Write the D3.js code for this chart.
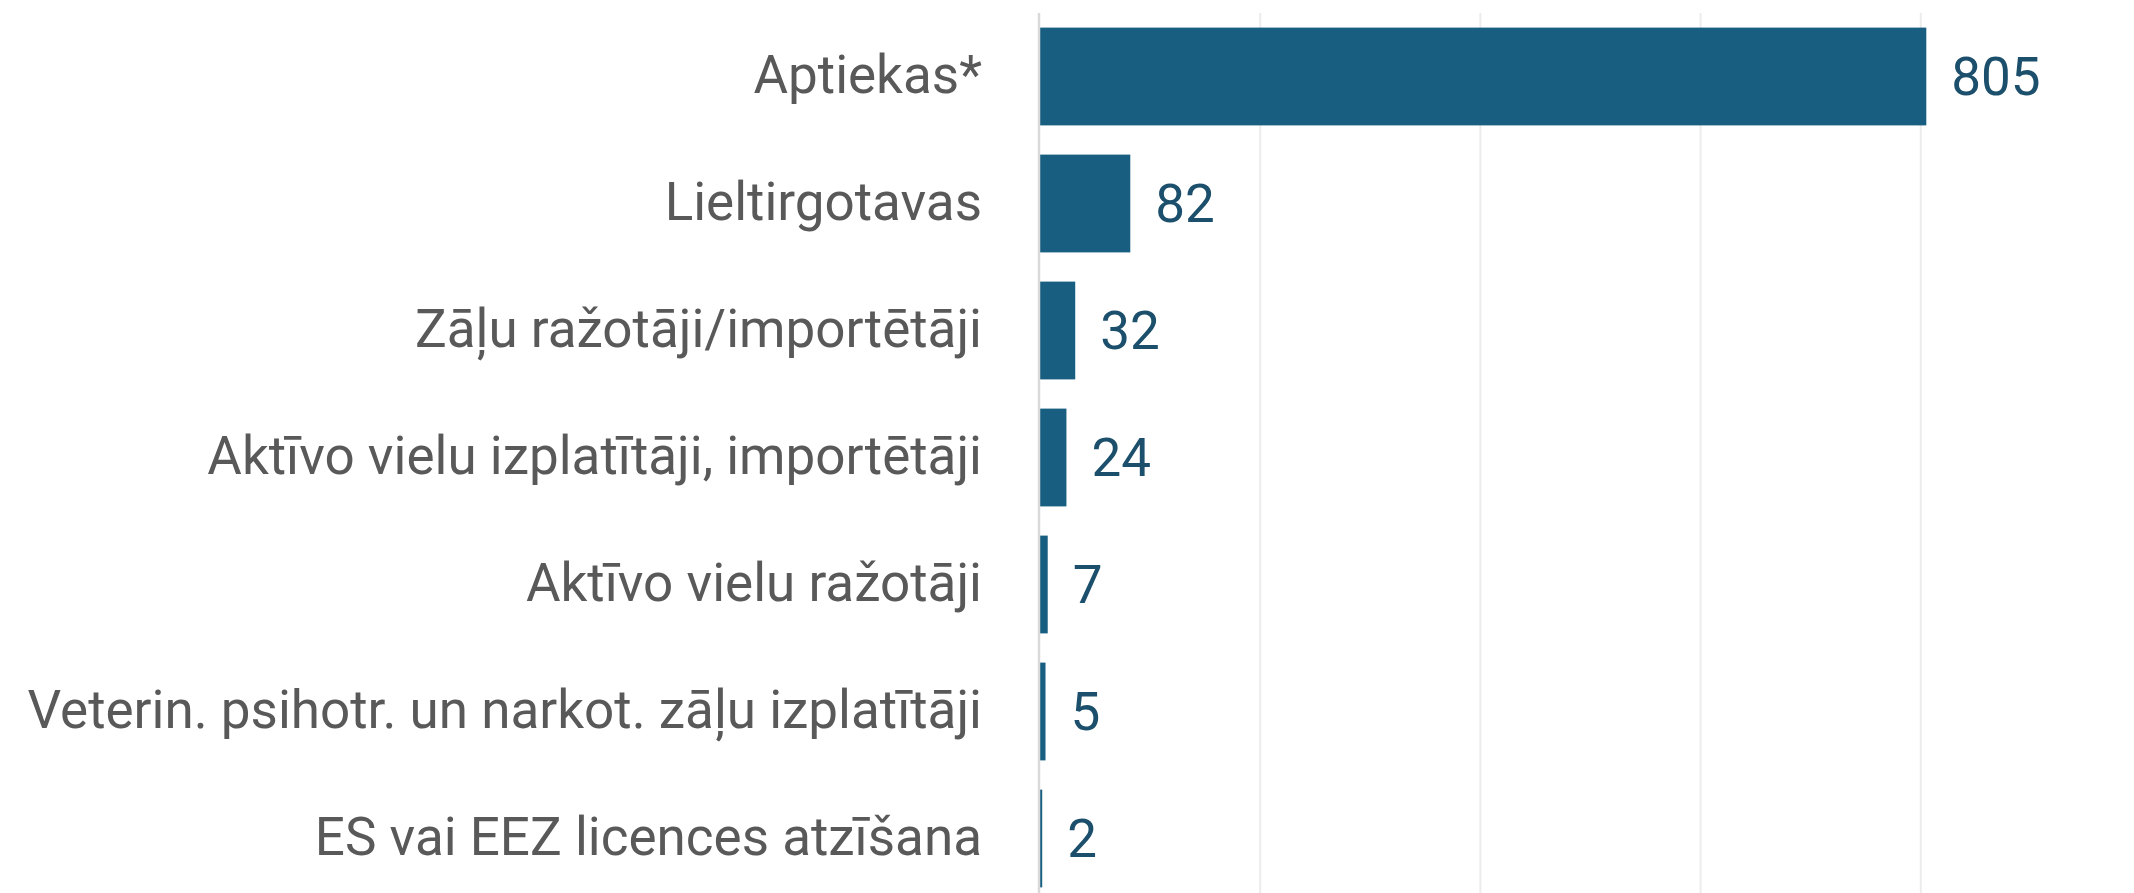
<!DOCTYPE html>
<html>
<head>
<meta charset="utf-8">
<script src="https://cdn.jsdelivr.net/npm/d3@7"></script>
<style>
  html, body { margin: 0; padding: 0; background: #fff; }
  .chart-container { width: 2134px; height: 893px; overflow: hidden; }
  .label { font-family: Roboto, sans-serif; font-size: 53px; fill: #595959; }
  .value { font-family: Roboto, sans-serif; font-size: 53px; fill: #1c4f6c; }
</style>
</head>
<body>
<div class="chart-container"></div>
<script>
const CATEGORIES = [
  'Aptiekas*',
  'Lieltirgotavas',
  'Zāļu ražotāji/importētāji',
  'Aktīvo vielu izplatītāji, importētāji',
  'Aktīvo vielu ražotāji',
  'Veterin. psihotr. un narkot. zāļu izplatītāji',
  'ES vai EEZ licences atzīšana'
]
const VALUES = [805, 82, 32, 24, 7, 5, 2]
const TICKS = [0, 200, 400, 600, 800]

const BAR_COLOR = '#175e80'
const GRID_COLOR = '#ececec'
const AXIS_COLOR = '#d9d9d9'

const data = CATEGORIES.map((c, i) => ({ category: c, value: VALUES[i] }))

const width = 2134
const height = 893
const margin = { top: 13, left: 1040 }
const plotHeight = 889

const svg = d3.select('.chart-container').append('svg')
  .attr('width', width)
  .attr('height', height)

const g = svg.append('g')
  .attr('transform', `translate(${margin.left},${margin.top})`)

const scaleX = d3.scaleLinear()
  .domain([0, 1000])
  .range([0, 1101])

const scaleY = d3.scaleBand()
  .domain(CATEGORIES)
  .range([0, plotHeight])
  .paddingInner(0.23)
  .paddingOuter(0.115)

// gridlines
g.append('g').attr('class', 'grid')
  .selectAll('line')
  .data(TICKS.slice(1))
  .enter().append('line')
    .attr('x1', d => scaleX(d))
    .attr('x2', d => scaleX(d))
    .attr('y1', 0)
    .attr('y2', plotHeight)
    .attr('stroke', GRID_COLOR)
    .attr('stroke-width', 2)

// bars
g.append('g').attr('class', 'bars')
  .selectAll('rect')
  .data(data)
  .enter().append('rect')
    .attr('x', 0)
    .attr('y', d => scaleY(d.category))
    .attr('width', d => scaleX(d.value))
    .attr('height', scaleY.bandwidth())
    .attr('fill', BAR_COLOR)

// y axis line
g.append('line')
  .attr('x1', scaleX(0) - 1)
  .attr('x2', scaleX(0) - 1)
  .attr('y1', 0)
  .attr('y2', plotHeight)
  .attr('stroke', AXIS_COLOR)
  .attr('stroke-width', 2.5)

// category labels
g.append('g').attr('class', 'labels')
  .selectAll('text')
  .data(data)
  .enter().append('text')
    .attr('class', 'label')
    .attr('x', -58)
    .attr('y', d => scaleY(d.category) + scaleY.bandwidth() / 2)
    .attr('dy', '0.32em')
    .attr('text-anchor', 'end')
    .text(d => d.category)

// value labels
g.append('g').attr('class', 'values')
  .selectAll('text')
  .data(data)
  .enter().append('text')
    .attr('class', 'value')
    .attr('x', d => scaleX(d.value) + 25)
    .attr('y', d => scaleY(d.category) + scaleY.bandwidth() / 2)
    .attr('dy', '0.35em')
    .text(d => d.value)
</script>
</body>
</html>
